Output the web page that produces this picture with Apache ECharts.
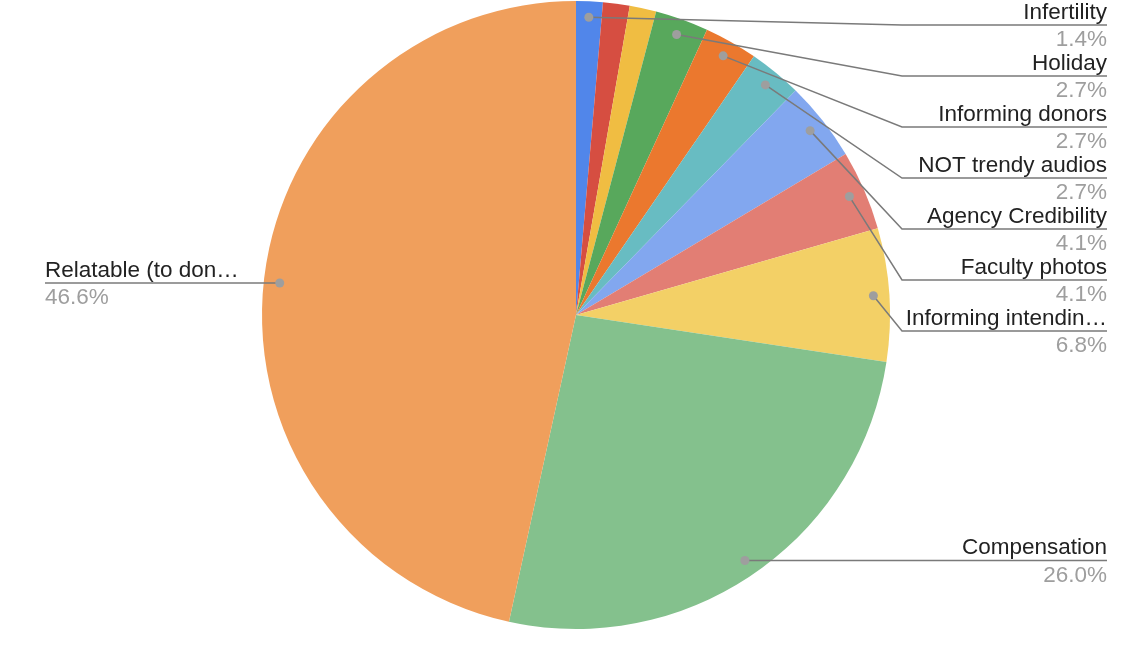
<!DOCTYPE html>
<html>
<head>
<meta charset="utf-8">
<title>Pie</title>
<script src="https://cdn.jsdelivr.net/npm/echarts@6/dist/echarts.min.js"></script>
<style>
    html, body { margin: 0; padding: 0; background: #fff; }
    #chart { width: 1146px; height: 662px; }
</style>
</head>
<body>
<div id="chart"></div>
<script>
// slices, clockwise from 12 o'clock
const names = ['Infertility', 'Slice 2', 'Slice 3', 'Holiday', 'Informing donors', 'NOT trendy audios',
    'Agency Credibility', 'Faculty photos', 'Informing intendin\u2026', 'Compensation', 'Relatable (to don\u2026']
const values = [1, 1, 1, 2, 2, 2, 3, 3, 5, 19, 34]
const colors = ['#5186ea', '#d64e41', '#f0bd42', '#58a85c', '#eb782e', '#68bcc2',
    '#82a7ef', '#e27e74', '#f3d066', '#84c18d', '#f09f5c']
// slices the reference draws without a label
const unlabeled = ['Slice 2', 'Slice 3']

const W = 1146
const cx = 576, cy = 315, R = 314
const dotR = 298
const font = 'Arial, "Liberation Sans", sans-serif'
const nameLH = 25, pctLH = 30

const total = values.reduce((a, b) => a + b, 0)

// anchor point (dot) of each slice, and where its label line ends up
let anchors = []
let cum = 0
values.forEach((v, i) => {
    let a = (cum + v / 2) / total * Math.PI * 2
    anchors.push({ x: cx + dotR * Math.sin(a), y: cy - dotR * Math.cos(a) })
    cum += v
})

let lineY = []
let prev = -Infinity
anchors.forEach((p, i) => {
    if (unlabeled.indexOf(names[i]) >= 0) return
    if (p.x >= cx) {
        let y = Math.max(p.y, prev + 51, 25)
        lineY[i] = y
        prev = y
    } else {
        lineY[i] = p.y
    }
})

const isShown = n => unlabeled.indexOf(n) < 0

const base = {
    type: 'pie',
    center: [cx, cy],
    startAngle: 90,
    clockwise: true,
    avoidLabelOverlap: false,
    emphasis: { disabled: true }
}

const chart = echarts.init(document.getElementById('chart'))

chart.setOption({
    backgroundColor: '#fff',
    animation: false,
    series: [
        Object.assign({}, base, {
            // the slices
            radius: [0, R],
            z: 2,
            itemStyle: { borderWidth: 0 },
            label: { show: false },
            labelLine: { show: false },
            data: names.map((n, i) => ({ name: n, value: values[i], itemStyle: { color: colors[i] } }))
        }),
        Object.assign({}, base, {
            // transparent copy on top, carries the labels and their lines
            radius: [0, R],
            z: 3,
            silent: true,
            itemStyle: { color: 'rgba(0,0,0,0)', borderWidth: 0 },
            data: names.map((n, i) => ({
                name: n, value: values[i],
                label: { show: isShown(n) },
                labelLine: { show: isShown(n) }
            })),
            label: {
                formatter: p => '{n|' + p.name + '}\n{p|' + (p.value / total * 100).toFixed(1) + '%}',
                rich: {
                    n: { fontFamily: font, fontSize: 22.5, color: '#222', lineHeight: nameLH },
                    p: { fontFamily: font, fontSize: 22.5, color: '#9e9e9e', lineHeight: pctLH }
                }
            },
            labelLine: {
                lineStyle: { color: '#7a7a7a', width: 1.5 }
            },
            labelLayout: params => {
                let i = params.dataIndex
                let p = anchors[i]
                let y = lineY[i]
                if (y == null) return {}
                if (p.x >= cx) {
                    return {
                        x: W - 39,
                        y: y - nameLH,
                        align: 'right',
                        verticalAlign: 'top',
                        labelLinePoints: [[p.x, p.y], [902, y], [W - 39, y]]
                    }
                }
                return {
                    x: 45,
                    y: y - nameLH,
                    align: 'left',
                    verticalAlign: 'top',
                    labelLinePoints: [[p.x, p.y], [p.x, y], [45, y]]
                }
            }
        }),
        Object.assign({}, base, {
            // grey dots where the label lines start
            radius: [dotR - 4, dotR + 4],
            z: 4,
            silent: true,
            itemStyle: { color: 'rgba(0,0,0,0)', borderWidth: 0 },
            data: names.map((n, i) => ({ name: n, value: values[i], label: { show: isShown(n) } })),
            label: {
                position: 'inside',
                formatter: ' ',
                fontSize: 1,
                width: 9,
                height: 9,
                padding: 0,
                borderRadius: 4.5,
                backgroundColor: '#9e9e9e'
            },
            labelLine: { show: false },
            labelLayout: params => {
                let p = anchors[params.dataIndex]
                return { x: p.x, y: p.y, align: 'center', verticalAlign: 'middle' }
            }
        })
    ]
})

window.onresize = () => chart.resize()
</script>
</body>
</html>
